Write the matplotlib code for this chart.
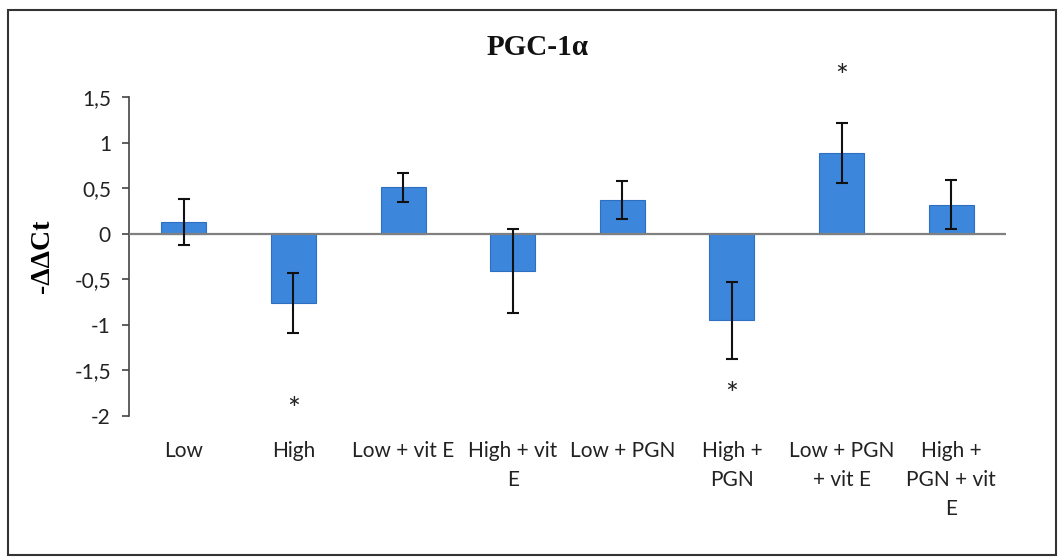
import numpy as np
import matplotlib
matplotlib.use("Agg")
import matplotlib.pyplot as plt
from matplotlib.patches import Rectangle

# data
groups = ["Low", "High", "Low + vit E", "High + vit\nE", "Low + PGN",
          "High +\nPGN", "Low + PGN\n+ vit E", "High +\nPGN + vit\nE"]
ddct = [0.13, -0.76, 0.51, -0.41, 0.37, -0.95, 0.89, 0.32]
sem = [0.25, 0.33, 0.16, 0.46, 0.21, 0.42, 0.33, 0.27]
star_idx = [1, 5, 6]
star_y = [-1.86, -1.69, 1.80]
yticks = [-2, -1.5, -1, -0.5, 0, 0.5, 1, 1.5]

sans = ["Lato", "DejaVu Sans"]
serif = ["Liberation Serif", "DejaVu Serif"]

fig = plt.figure(figsize=(10.59, 5.58), dpi=100)
ax = fig.add_axes([0.1218, 0.2545, 0.8282, 0.5717])

x = np.arange(len(groups))
ax.bar(x, ddct, width=0.41, color="#3c87db", edgecolor="#2e6fc2", linewidth=0.8, zorder=2)
ax.axhline(0, color="#808080", lw=1.6, zorder=3)
ax.errorbar(x, ddct, yerr=sem, fmt="none", ecolor="#111111", elinewidth=1.5,
            capsize=4.3, capthick=1.5, zorder=4)

for i, yy in zip(star_idx, star_y):
    ax.annotate("*", (x[i], yy), xytext=(0, -5), textcoords="offset points",
                ha="center", va="center", fontsize=22, family=sans,
                color="#222222", annotation_clip=False)

ax.set_xlim(-0.5, len(groups) - 0.5)
ax.set_ylim(-2, 1.5)
ax.set_yticks(yticks)
ax.set_yticklabels([("%g" % t).replace(".", ",") for t in yticks],
                   family=sans, fontsize=15, color="#222222")
ax.set_xticks(x)
ax.set_xticklabels(groups, family=sans, fontsize=15, color="#222222", linespacing=1.55)
ax.tick_params(axis="x", length=0, pad=18)
ax.tick_params(axis="y", length=5, width=1.2, color="#444444", pad=8)

for s in ["top", "right", "bottom"]:
    ax.spines[s].set_visible(False)
ax.spines["left"].set_color("#444444")
ax.spines["left"].set_linewidth(1.2)

ax.set_ylabel("-ΔΔCt", family=serif, fontweight="bold", fontsize=20, labelpad=14)
fig.text(0.508, 0.915, "PGC-1α", ha="center", va="center", family=serif,
         fontweight="bold", fontsize=21, color="#111111")

# outer frame
fig.patches.append(Rectangle((8 / 1059, 1 - 555 / 558), 1048 / 1059, 545 / 558,
                             transform=fig.transFigure, fill=False,
                             edgecolor="#333333", linewidth=1.5))

fig.savefig("out.png", dpi=100)
